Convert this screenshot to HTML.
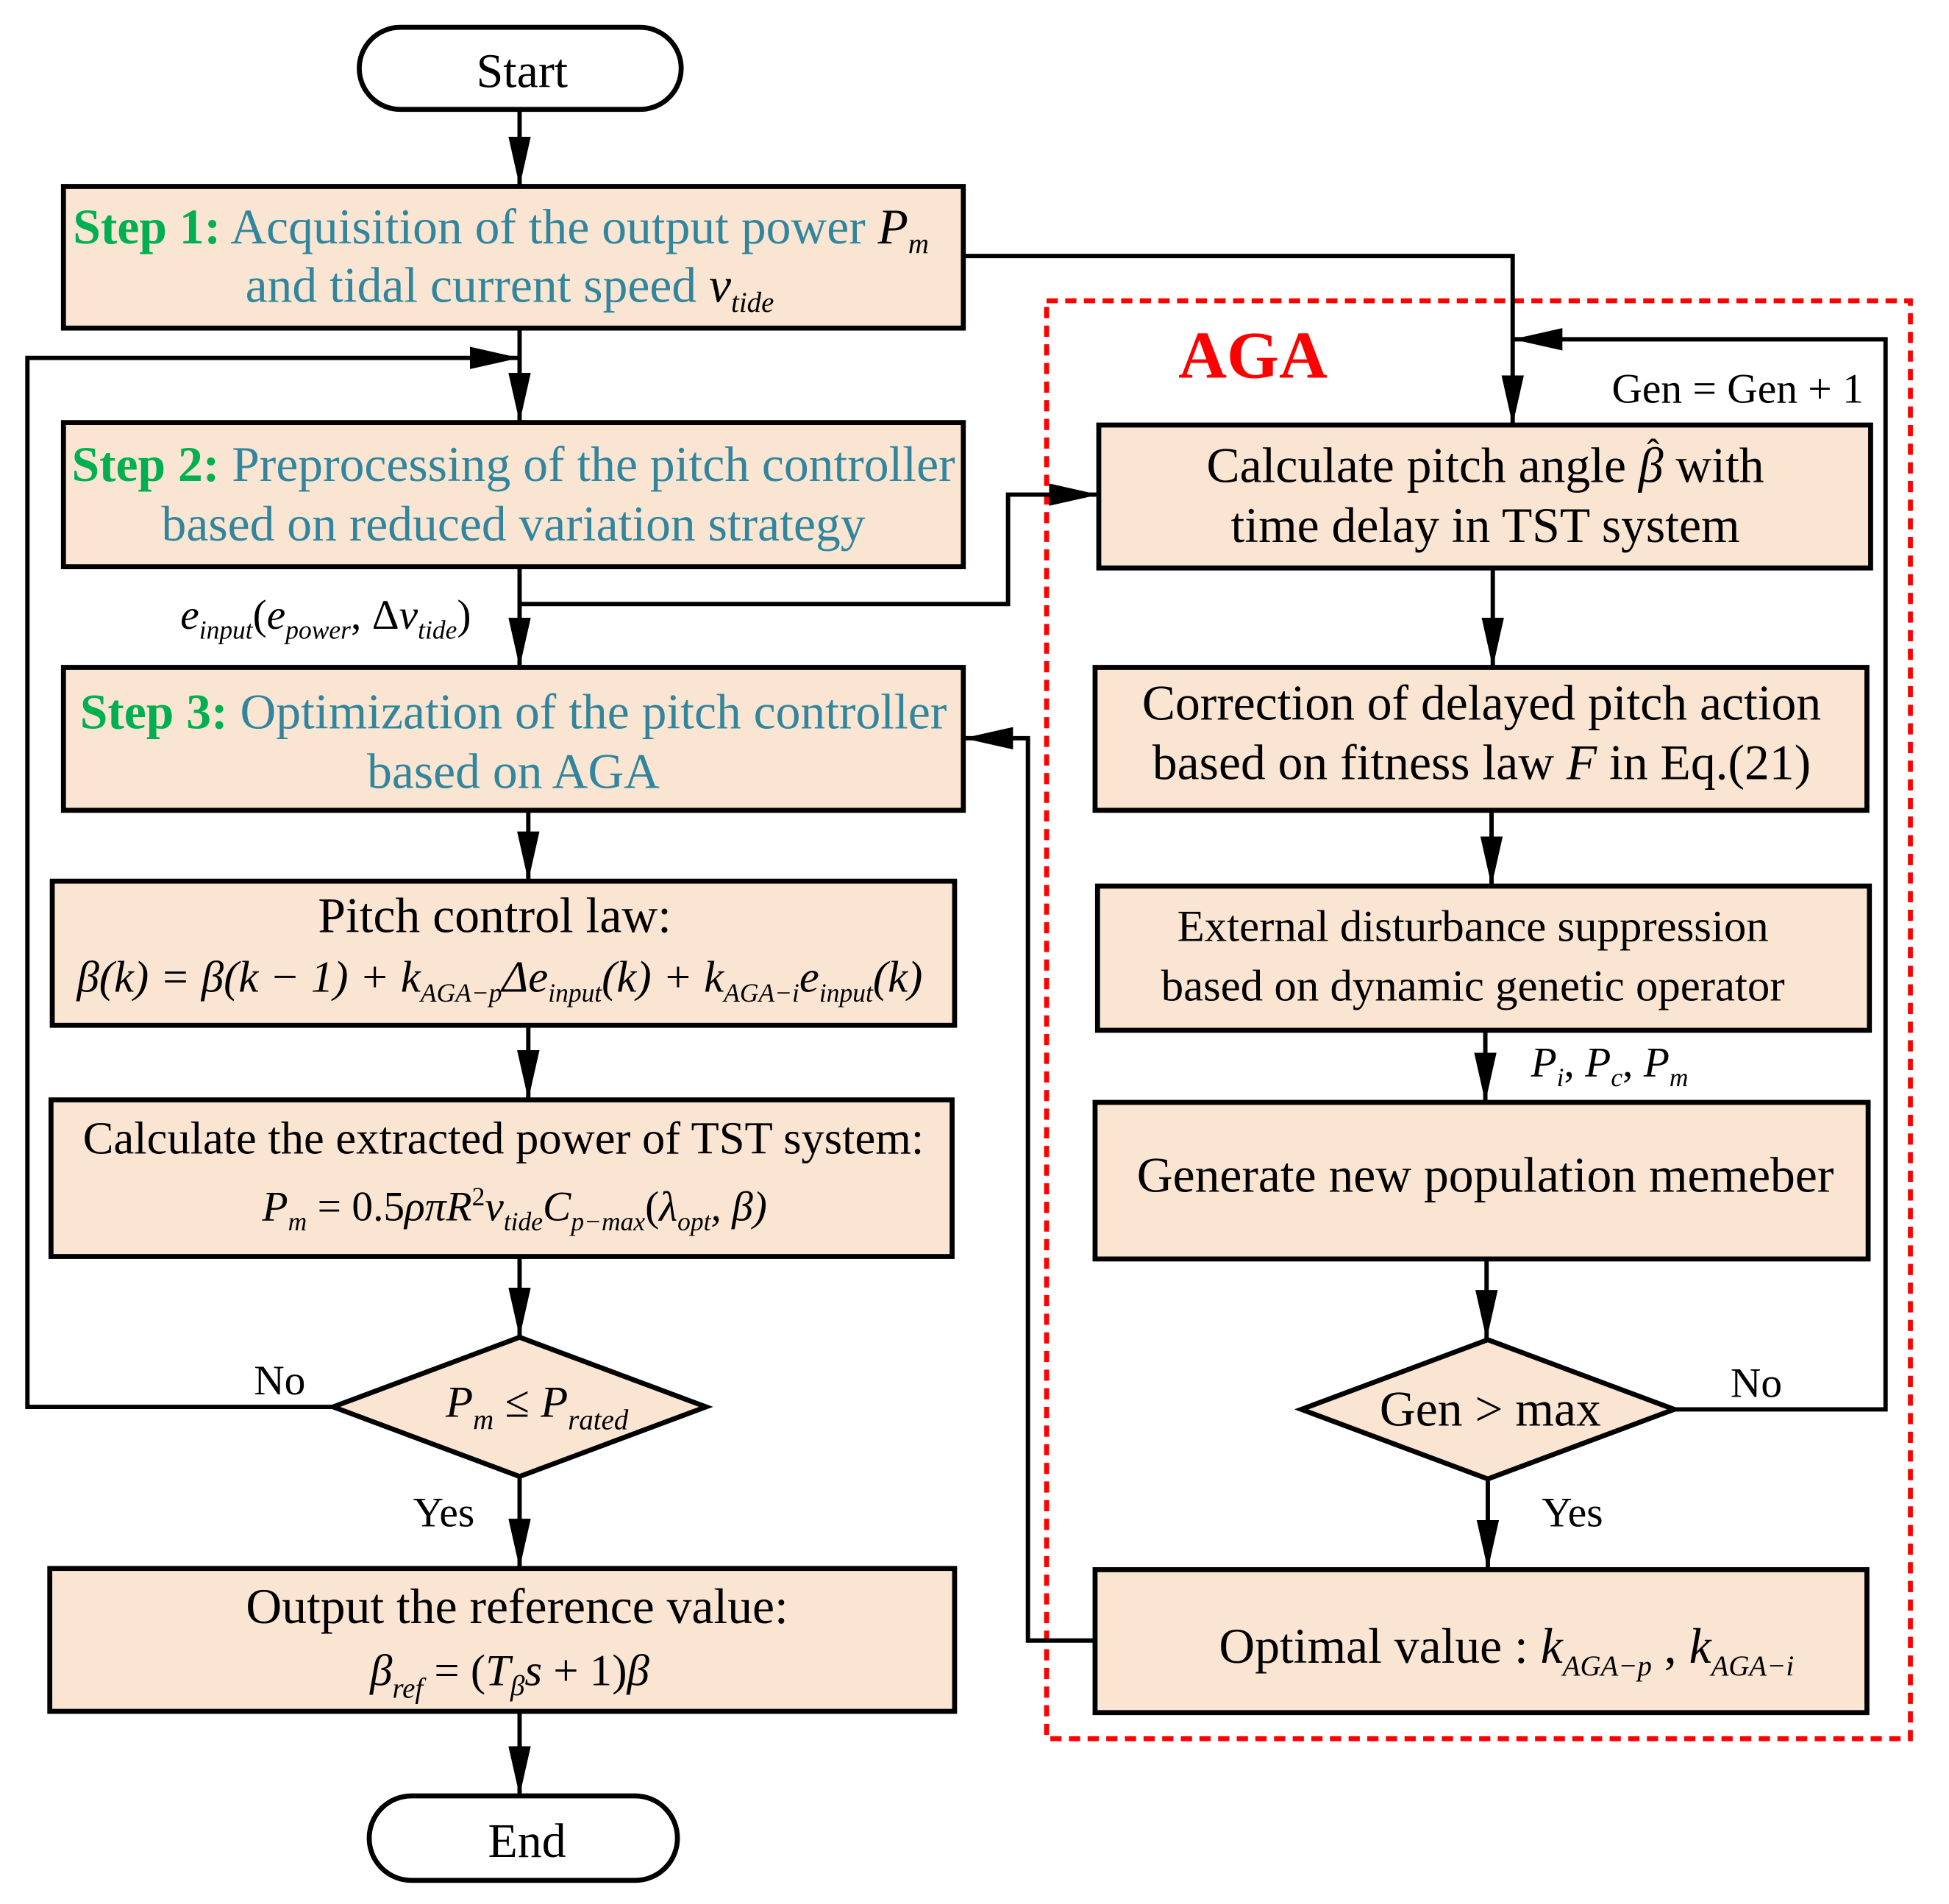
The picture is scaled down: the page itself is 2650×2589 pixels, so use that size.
<!DOCTYPE html>
<html><head><meta charset="utf-8"><style>html,body{margin:0;padding:0;background:#fff}svg{display:block}</style></head>
<body>
<svg width="2650" height="2589" viewBox="0 0 1568 1532" xmlns="http://www.w3.org/2000/svg" font-family="Liberation Serif, serif">
<defs>
<marker id="a" markerWidth="40" markerHeight="18" refX="40" refY="9" orient="auto" markerUnits="userSpaceOnUse"><path d="M0,0 L40,9 L0,18 z" fill="#000"/></marker>
</defs>
<g fill="#FAE5D3" stroke="#000" stroke-width="4">
<rect x="289" y="22" width="259" height="66" rx="33" fill="#fff"/>
<rect x="51" y="150" width="724" height="114"/>
<rect x="51" y="340" width="724" height="116"/>
<rect x="51" y="537" width="724" height="115"/>
<rect x="42" y="709" width="726" height="116"/>
<rect x="41" y="885" width="725" height="126"/>
<polygon points="268,1132 418,1076 568,1132 418,1188"/>
<rect x="40" y="1262" width="728" height="115"/>
<rect x="297" y="1445" width="248" height="68" rx="34" fill="#fff"/>
<rect x="884" y="342" width="621" height="115"/>
<rect x="881" y="537" width="621" height="115"/>
<rect x="883" y="713" width="621" height="116"/>
<rect x="881" y="887" width="622" height="126"/>
<polygon points="1047,1134 1197,1078 1347,1134 1197,1190"/>
<rect x="881" y="1263" width="621" height="115"/>
</g>
<rect x="842" y="242" width="695" height="1157" fill="none" stroke="#f00" stroke-width="4" stroke-dasharray="9,6"/>
<g fill="none" stroke="#000" stroke-width="3.5" marker-end="url(#a)">
<line x1="418" y1="88" x2="418" y2="150"/>
<polyline points="775,206 1217,206 1217,342"/>
<polyline points="268,1132 22,1132 22,288 418,288"/>
<line x1="418" y1="264" x2="418" y2="340"/>
<line x1="418" y1="456" x2="418" y2="537"/>
<polyline points="418,486 811,486 811,398 884,398"/>
<line x1="425" y1="652" x2="425" y2="709"/>
<line x1="425" y1="825" x2="425" y2="885"/>
<line x1="418" y1="1011" x2="418" y2="1076"/>
<line x1="418" y1="1188" x2="418" y2="1262"/>
<line x1="418" y1="1377" x2="418" y2="1445"/>
<polyline points="1347,1134 1517,1134 1517,273 1217,273"/>
<line x1="1201" y1="457" x2="1201" y2="537"/>
<line x1="1200" y1="652" x2="1200" y2="713"/>
<line x1="1195" y1="829" x2="1195" y2="887"/>
<line x1="1196" y1="1013" x2="1196" y2="1078"/>
<line x1="1197" y1="1190" x2="1197" y2="1263"/>
<polyline points="881,1320 827,1320 827,594 775,594"/>
</g>
<g font-size="39" text-anchor="middle" fill="#000">
<text x="420" y="70">Start</text>
<text x="424" y="1494">End</text>
<text x="403" y="196" fill="#31859C" font-size="40"><tspan fill="#00B050" font-weight="bold">Step 1:</tspan> Acquisition of the output power  <tspan fill="#000" font-style="italic">P</tspan><tspan fill="#000" font-style="italic" font-size="23" dy="8">m</tspan></text>
<text x="410" y="243" fill="#31859C" font-size="40">and tidal current speed  <tspan fill="#000" font-style="italic">v</tspan><tspan fill="#000" font-style="italic" font-size="23" dy="8">tide</tspan></text>
<text x="413" y="387" fill="#31859C" font-size="40"><tspan fill="#00B050" font-weight="bold">Step 2:</tspan> Preprocessing of the pitch controller</text>
<text x="413" y="435" fill="#31859C" font-size="40">based on reduced variation strategy</text>
<text x="413" y="586" fill="#31859C" font-size="40"><tspan fill="#00B050" font-weight="bold">Step 3:</tspan> Optimization of the pitch controller</text>
<text x="413" y="634" fill="#31859C" font-size="40">based on AGA</text>
<text x="398" y="750" font-size="40">Pitch control law:</text>
<text x="402" y="798" font-size="36" font-style="italic">β(k) = β(k − 1) + k<tspan font-size="21" dy="8">AGA−p</tspan><tspan dy="-8">Δe</tspan><tspan font-size="21" dy="8">input</tspan><tspan dy="-8">(k) + k</tspan><tspan font-size="21" dy="8">AGA−i</tspan><tspan dy="-8">e</tspan><tspan font-size="21" dy="8">input</tspan><tspan dy="-8">(k)</tspan></text>
<text x="405" y="928" font-size="37">Calculate the extracted power of  TST system:</text>
<text x="414" y="982" font-size="34" font-style="italic">P<tspan font-size="21" dy="8">m</tspan><tspan dy="-8" font-style="normal"> = 0.5</tspan>ρπR<tspan font-size="21" dy="-12" font-style="normal">2</tspan><tspan dy="12">v</tspan><tspan font-size="21" dy="8">tide</tspan><tspan dy="-8">C</tspan><tspan font-size="21" dy="8">p−max</tspan><tspan dy="-8" font-style="normal">(</tspan>λ<tspan font-size="21" dy="8">opt</tspan><tspan dy="-8">, β)</tspan></text>
<text x="432" y="1140" font-size="36" font-style="italic">P<tspan font-size="23" dy="10">m</tspan><tspan dy="-10" font-style="normal"> ≤ </tspan>P<tspan font-size="23" dy="10">rated</tspan></text>
<text x="225" y="1122" font-size="34">No</text>
<text x="357" y="1228" font-size="34">Yes</text>
<text x="416" y="1306" font-size="40">Output the reference value:</text>
<text x="410" y="1356" font-size="36" font-style="italic">β<tspan font-size="23" dy="10">ref</tspan><tspan dy="-10" font-style="normal"> = (</tspan>T<tspan font-size="23" dy="8">β</tspan><tspan dy="-8">s</tspan><tspan font-style="normal"> + 1)</tspan>β</text>
<text x="262" y="506" font-size="34" font-style="italic">e<tspan font-size="21" dy="8">input</tspan><tspan dy="-8" font-style="normal">(</tspan>e<tspan font-size="21" dy="8">power</tspan><tspan dy="-8" font-style="normal">, Δ</tspan>v<tspan font-size="21" dy="8">tide</tspan><tspan dy="-8" font-style="normal">)</tspan></text>
<text x="1008" y="304" font-size="54" font-weight="bold" fill="#f00">AGA</text>
<text x="1398" y="324" font-size="34">Gen = Gen + 1</text>
<text x="1195" y="388" font-size="40">Calculate pitch angle  <tspan font-style="italic">β</tspan>  with</text>
<text x="1330" y="374" font-size="30">ˆ</text>
<text x="1195" y="436" font-size="40">time delay in TST system</text>
<text x="1192" y="579" font-size="40">Correction of delayed pitch action</text>
<text x="1192" y="627" font-size="40">based on fitness law <tspan font-style="italic">F</tspan> in Eq.(21)</text>
<text x="1185" y="757" font-size="36">External disturbance suppression</text>
<text x="1185" y="805" font-size="36">based on dynamic genetic operator</text>
<text x="1295" y="866" font-size="34" font-style="italic">P<tspan font-size="21" dy="8">i</tspan><tspan dy="-8" font-style="normal">, </tspan>P<tspan font-size="21" dy="8">c</tspan><tspan dy="-8" font-style="normal">, </tspan>P<tspan font-size="21" dy="8">m</tspan></text>
<text x="1195" y="959" font-size="40">Generate  new population memeber</text>
<text x="1199" y="1147" font-size="40">Gen &gt; max</text>
<text x="1413" y="1124" font-size="34">No</text>
<text x="1265" y="1228" font-size="34">Yes</text>
<text x="1212" y="1338" font-size="40">Optimal value : <tspan font-style="italic">k</tspan><tspan font-style="italic" font-size="23" dy="10">AGA−p</tspan><tspan dy="-10">   ,   </tspan><tspan font-style="italic">k</tspan><tspan font-style="italic" font-size="23" dy="10">AGA−i</tspan></text>
</g>
</svg>
</body></html>
